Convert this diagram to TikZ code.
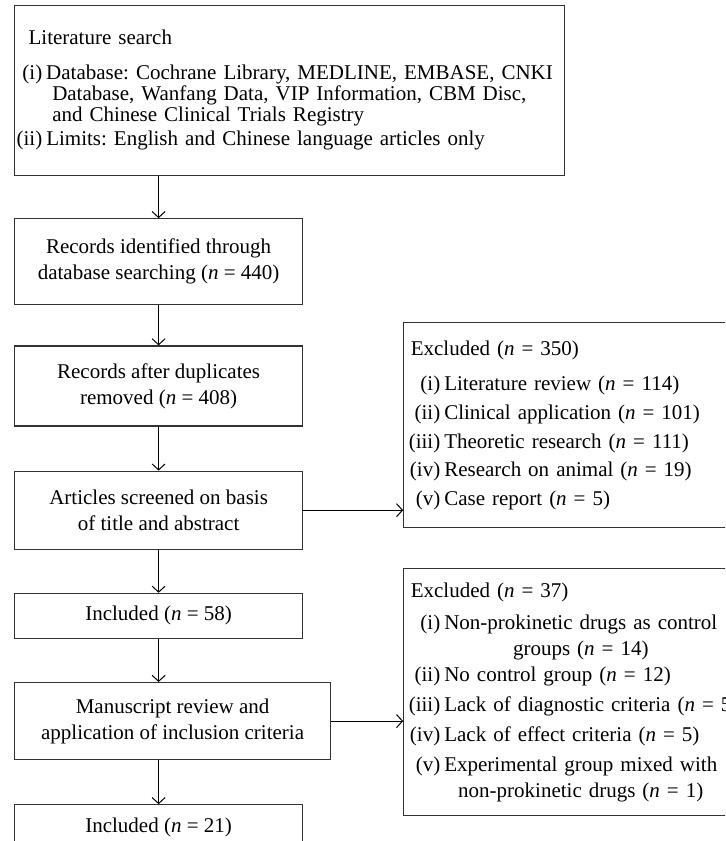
\documentclass[tikz,border=0pt]{standalone}
\usepackage{fontspec}
\setmainfont{Liberation Serif}
\usetikzlibrary{arrows.meta,positioning}
\setlength{\parindent}{0pt}
\frenchspacing
\newcommand{\nval}[1]{(\textit{n} = #1)}

\begin{document}
\begin{tikzpicture}[->,>={Straight Barb[length=3pt,width=6.5pt]},x=0.5pt,y=-0.5pt,
                    node distance=21pt,line width=0.5pt]
\tikzstyle{box}=[rectangle,draw=black!80,line width=0.6pt,fill=white,inner sep=0pt,
                 font=\fontsize{10.5}{13}\selectfont]
\tikzstyle{flow}=[box,align=center,minimum width=144pt]
\tikzstyle{listbox}=[box,align=left,inner xsep=2.5pt,text width=172pt]

\useasboundingbox (0,0) rectangle (725,841);
\clip (0,0) rectangle (725,841);

\node[box,anchor=north west,inner xsep=1pt,text width=273pt,align=left,minimum height=85pt] (lit) at (14,5)
  {\renewcommand{\arraystretch}{0.82}%
   \begin{tabular}{@{}r@{\hspace{2pt}}l@{}}
   \multicolumn{2}{@{\hspace{6pt}}l@{}}{Literature search}\\[6.5pt]
   (i) & Database: Cochrane Library, MEDLINE, EMBASE, CNKI\\
       & \hspace{3pt}Database, Wanfang Data, VIP Information, CBM Disc,\\
       & \hspace{3pt}and Chinese Clinical Trials Registry\\[1pt]
   (ii) & Limits: English and Chinese language articles only
   \end{tabular}};

\node[flow,minimum height=43pt,below=21pt of lit.south west,anchor=north west] (ident)
  {Records identified through\\database searching \nval{440}};
\node[flow,minimum height=40pt,below=20pt of ident] (dup)
  {Records after duplicates\\removed \nval{408}};
\node[flow,minimum height=39pt,below=22pt of dup] (arts)
  {Articles screened on basis\\of title and abstract};
\node[flow,minimum height=22.5pt,below=21.5pt of arts] (inc1) {Included \nval{58}};
\node[flow,minimum width=158pt,minimum height=38.5pt,below=21.5pt of inc1.south west,anchor=north west] (man)
  {Manuscript review and\\application of inclusion criteria};
\node[flow,minimum height=22.5pt,below=22pt of man.south west,anchor=north west] (inc2) {Included \nval{21}};

\node[listbox,minimum height=102.5pt,above right=74.5pt and 50pt of arts.north east,anchor=north west] (ex1)
  {\renewcommand{\arraystretch}{1.115}%
   \begin{tabular}{@{}r@{\hspace{2pt}}l@{}}
   \multicolumn{2}{@{\hspace{1pt}}l@{}}{Excluded \nval{350}}\\[3pt]
   (i) & Literature review \nval{114}\\
   (ii) & Clinical application \nval{101}\\
   (iii) & Theoretic research \nval{111}\\
   (iv) & Research on animal \nval{19}\\
   (v) & Case report \nval{5}
   \end{tabular}};

\node[listbox,minimum height=123.5pt,above right=57pt and 36pt of man.north east,anchor=north west] (ex2)
  {\begin{tabular}{@{}r@{\hspace{2pt}}l@{}}
   \multicolumn{2}{@{\hspace{1pt}}l@{}}{Excluded \nval{37}}\\[3pt]
   (i) & \begin{tabular}[t]{@{}c@{}}Non-prokinetic drugs as control\\groups \nval{14}\end{tabular}\\[4pt]
   (ii) & No control group \nval{12}\\[2pt]
   (iii) & Lack of diagnostic criteria \nval{5}\\[2pt]
   (iv) & Lack of effect criteria \nval{5}\\[2pt]
   (v) & \begin{tabular}[t]{@{}c@{}}Experimental group mixed with\\non-prokinetic drugs \nval{1}\end{tabular}
   \end{tabular}};

% main flow
\draw (lit.south -| ident.north) -- (ident.north);
\draw (ident) -- (dup);
\draw (dup) -- (arts);
\draw (arts) -- (inc1);
\draw (inc1.south) -- (inc1.south |- man.north);
\draw (inc2.north |- man.south) -- (inc2.north);

% exclusions
\draw (arts.east) -- (arts.east -| ex1.west);
\draw (man.east) -- (man.east -| ex2.west);
\end{tikzpicture}
\end{document}
